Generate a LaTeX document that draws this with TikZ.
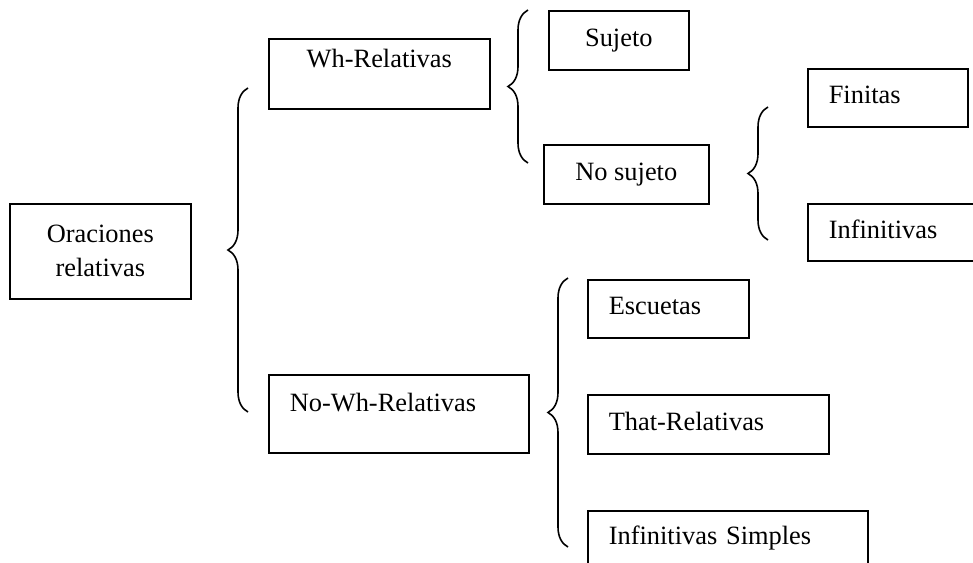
\documentclass[tikz,border=0pt]{standalone}
\usepackage{fontspec}
\setmainfont{Liberation Serif}
\usetikzlibrary{decorations.pathreplacing}

\tikzset{
  box/.style = {draw, line width=1.6pt, rectangle, inner sep=0pt, anchor=north west},
  oneline/.style = {box, text height=18pt, text depth=6pt},
  leftbox/.style = {oneline, inner xsep=21pt, align=left},
  curly/.style = {decorate, decoration={brace, amplitude=20pt}, line width=1.6pt}
}

\begin{document}
\begin{tikzpicture}[x=1pt, y=-1pt, font=\fontsize{26.4}{34}\selectfont]
		\useasboundingbox (0,0) rectangle (973,562);
		% Root
		\node[box, minimum width=181pt, minimum height=95pt, align=center] (orac) at (9,203) {Oraciones\\relativas};
		% First level
		\node[oneline, minimum width=221pt, minimum height=70pt, text depth=30pt] (wh) at (268,38) {Wh-Relativas};
		\node[leftbox, text width=218pt, minimum height=78pt, text depth=22pt] (nowh) at (268,374) {No-Wh-Relativas};
		% Wh branch
		\node[oneline, minimum width=140pt, minimum height=59pt] (suj) at (548,10) {Sujeto};
		\node[oneline, minimum width=165pt, minimum height=59pt] (nosuj) at (543,144) {No sujeto};
		\node[leftbox, text width=118pt, minimum height=58pt] (fin) at (807,68) {Finitas};
		\node[leftbox, text width=146pt, minimum height=57pt] (inf) at (807,203) {Infinitivas};
		% No-Wh branch
		\node[leftbox, text width=119pt, minimum height=58pt] (esc) at (587,279) {Escuetas};
		\node[leftbox, text width=199pt, minimum height=59pt] (that) at (587,394) {That-Relativas};
		\node[leftbox, text width=238pt, minimum height=70pt, text depth=20pt] (infs) at (587,510) {Infinitivas Simples};
		% Braces
		\draw[curly] (248,412) -- (248,88);     % root
		\draw[curly] (528,163) -- (528,10);     % Wh
		\draw[curly] (768,240) -- (768,107);    % No sujeto
		\draw[curly] (568,547) -- (568,278);    % No-Wh
	\end{tikzpicture}
\end{document}
